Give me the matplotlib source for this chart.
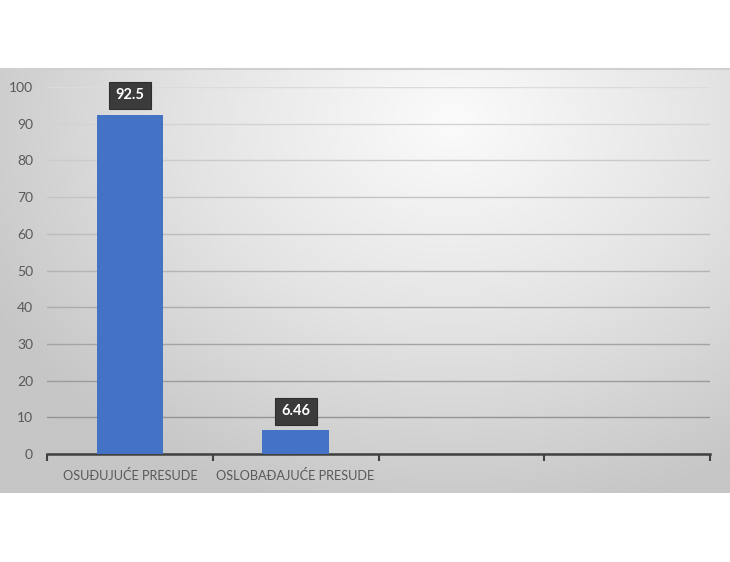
import numpy as np
import matplotlib.pyplot as plt
from matplotlib.colors import LinearSegmentedColormap

# data
categories = ["OSUĐUJUĆE PRESUDE", "OSLOBAĐAJUĆE PRESUDE", "", ""]
values = [92.5, 6.46, None, None]
y_ticks = [0, 10, 20, 30, 40, 50, 60, 70, 80, 90, 100]

plt.rcParams['font.family'] = ['Lato', 'DejaVu Sans']

fig = plt.figure(figsize=(7.3, 5.62), dpi=100)
fig.patch.set_facecolor('white')

# chart area with radial gradient background
bg = fig.add_axes([0, 69 / 562, 1, 424 / 562])
bg.set_axis_off()
ny, nx = 200, 360
xx, yy = np.meshgrid(np.linspace(0, 1, nx), np.linspace(0, 1, ny))
dist = np.sqrt(((xx - 0.62) * 1.0) ** 2 + ((yy - 0.12) * 0.75) ** 2)
dist = np.clip(dist / 0.72, 0, 1)
cmap = LinearSegmentedColormap.from_list('bg', ['#fbfbfb', '#e4e4e4', '#c6c6c6'])
bg.imshow(dist, cmap=cmap, aspect='auto', extent=[0, 1, 0, 1], origin='upper', vmin=0, vmax=1)
bg.plot([0, 1], [1, 1], color='#d0d0d0', lw=1.5, transform=bg.transAxes, clip_on=False)
bg.set_xlim(0, 1)
bg.set_ylim(0, 1)

ax = fig.add_axes([47 / 730, 1 - 454 / 562, 663 / 730, 367 / 562])
ax.patch.set_alpha(0)

x = np.arange(len(categories))
bar_x = [i for i, v in enumerate(values) if v is not None]
bar_v = [v for v in values if v is not None]
bars = ax.bar(bar_x, bar_v, width=0.4, color='#4472C4', zorder=3)

for b, v in zip(bars, bar_v):
    ax.text(b.get_x() + b.get_width() / 2, v + 5.2, f"{v:g}", ha='center', va='center',
            color='white', fontsize=10.5, fontweight='bold', zorder=5,
            bbox=dict(boxstyle='square,pad=0.45', facecolor='#3b3b3b', edgecolor='#2e2e2e',
                      linewidth=0.8))

ax.set_xlim(-0.5, len(categories) - 0.5)
ax.set_ylim(0, 100)
ax.set_yticks(y_ticks)
ax.set_xticks(x)
ax.set_xticklabels(categories, fontsize=9.2, color='#595959')
ax.set_xticks(np.arange(len(categories) + 1) - 0.5, minor=True)
ax.tick_params(axis='x', which='major', length=0, pad=11)
ax.tick_params(axis='x', which='minor', length=5, width=1.5, color='#404040', direction='out')
ax.tick_params(axis='y', length=0, labelsize=10, labelcolor='#595959', pad=10)

for s in ['top', 'right', 'left']:
    ax.spines[s].set_visible(False)
ax.spines['bottom'].set_color('#404040')
ax.spines['bottom'].set_linewidth(1.8)

ax.yaxis.grid(True, zorder=0, linewidth=1)
grey_top = np.array([0.86, 0.86, 0.86])
grey_bot = np.array([0.55, 0.55, 0.55])
for i, gl in enumerate(ax.get_ygridlines()):
    t = i / (len(y_ticks) - 1)
    gl.set_color(tuple(grey_bot * (1 - t) + grey_top * t))
ax.set_axisbelow(True)

fig.savefig('out.png', dpi=100, facecolor='white')
